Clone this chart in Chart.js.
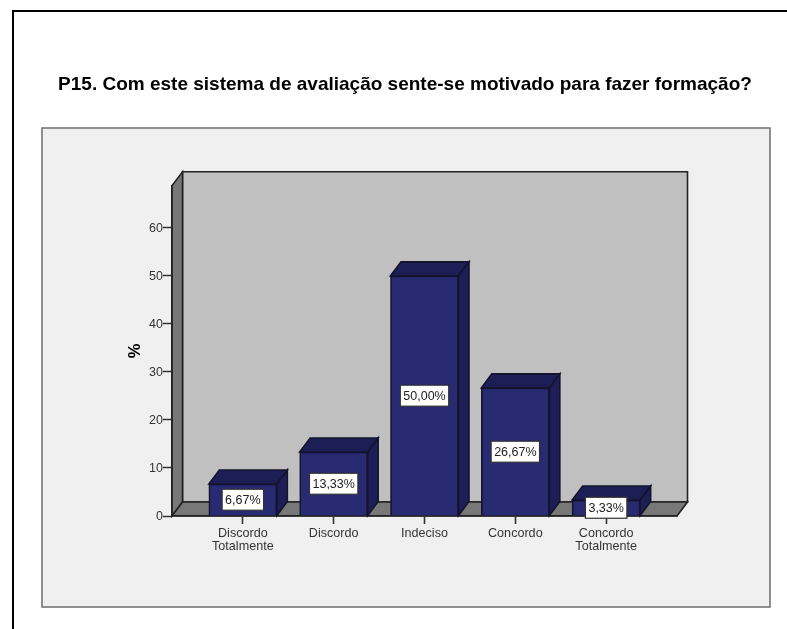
<!DOCTYPE html>
<html><head><meta charset="utf-8">
<style>html,body{margin:0;padding:0;background:#fff}#w{position:relative;width:787px;height:629px}canvas{display:block}</style>
<script src="https://cdn.jsdelivr.net/npm/chart.js@4"></script></head>
<body><div id="w"><canvas id="c" width="787" height="629"></canvas></div>
<script>
const chartTitle = 'P15. Com este sistema de avaliação sente-se motivado para fazer formação?';
const categories = [['Discordo','Totalmente'],['Discordo'],['Indeciso'],['Concordo'],['Concordo','Totalmente']];
const percentValues = [6.67, 13.33, 50.00, 26.67, 3.33];
const valueLabels = ['6,67%','13,33%','50,00%','26,67%','3,33%'];
const yTicks = [0,10,20,30,40,50,60];
const yTitle = '%';
const DX = 10.5, DY = 14;

function poly(ctx, pts, fill, stroke, lw){
  ctx.beginPath();
  pts.forEach((p,i)=> i?ctx.lineTo(p[0],p[1]):ctx.moveTo(p[0],p[1]));
  ctx.closePath();
  ctx.fillStyle=fill; ctx.fill();
  ctx.strokeStyle=stroke; ctx.lineWidth=lw; ctx.stroke();
}
const frame = {
  id:'frame',
  afterLayout(chart){
    // let the title run wider than the plot box
    const t=chart.titleBlock; t.left=40; t.right=770;
  },
  beforeDraw(chart){
    const ctx=chart.ctx, a=chart.chartArea;
    ctx.save();
    ctx.fillStyle='#fff'; ctx.fillRect(0,0,chart.width,chart.height);
    ctx.strokeStyle='#000'; ctx.lineWidth=2;
    ctx.beginPath(); ctx.moveTo(13,629); ctx.lineTo(13,11); ctx.lineTo(787,11); ctx.stroke();
    ctx.fillStyle='#f0f0f0'; ctx.fillRect(42,128,728,479);
    ctx.strokeStyle='#6e6e6e'; ctx.lineWidth=1.5; ctx.strokeRect(42,128,728,479);
    const l=a.left,r=a.right,t=a.top,b=a.bottom;
    poly(ctx,[[l+DX,t-DY],[r+DX,t-DY],[r+DX,b-DY],[l+DX,b-DY]],'#c0c0c0','#222',1.6);
    poly(ctx,[[l,t],[l+DX,t-DY],[l+DX,b-DY],[l,b]],'#787878','#222',1.6);
    poly(ctx,[[l,b],[l+DX,b-DY],[r+DX,b-DY],[r,b]],'#787878','#222',1.6);
    ctx.restore();
  },
  beforeDatasetsDraw(chart){
    const ctx=chart.ctx;
    ctx.save();
    chart.getDatasetMeta(0).data.forEach(el=>{
      const p=el.getProps(['x','y','base','width'],true);
      const l=p.x-p.width/2, r=p.x+p.width/2;
      poly(ctx,[[l,p.y],[l+DX,p.y-DY],[r+DX,p.y-DY],[r,p.y]],'#1d1e55','#14142e',1.6);
      poly(ctx,[[r,p.y],[r+DX,p.y-DY],[r+DX,p.base-DY],[r,p.base]],'#1d1e55','#14142e',1.6);
    });
    ctx.restore();
  },
  afterDatasetsDraw(chart){
    const ctx=chart.ctx;
    ctx.save();
    ctx.font='12.5px "Liberation Sans"';
    ctx.textAlign='center'; ctx.textBaseline='middle';
    chart.getDatasetMeta(0).data.forEach((el,i)=>{
      const p=el.getProps(['x','y','base'],true);
      const cy=(p.y+p.base)/2, txt=valueLabels[i];
      const w=ctx.measureText(txt).width+6, h=21;
      ctx.fillStyle='#fff'; ctx.fillRect(p.x-w/2,cy-h/2,w,h);
      ctx.strokeStyle='#333'; ctx.lineWidth=1.2; ctx.strokeRect(p.x-w/2,cy-h/2,w,h);
      ctx.fillStyle='#222'; ctx.fillText(txt,p.x,cy+0.5);
    });
    ctx.restore();
  }
};
new Chart(document.getElementById('c'),{
  type:'bar',
  data:{datasets:[{
    data:percentValues.map((v,i)=>({x:i,y:v})),
    backgroundColor:'#282a72', borderColor:'#14142e', borderWidth:1.7, barThickness:68
  }]},
  plugins:[frame],
  options:{
    responsive:false, animation:false,
    layout:{padding:{left:133,right:110,top:73,bottom:0}},
    plugins:{
      legend:{display:false}, tooltip:{enabled:false},
      title:{display:true,text:chartTitle,color:'#000',
        font:{family:'"Liberation Sans"',size:19,weight:'bold',lineHeight:1.2},
        padding:{top:0,bottom:90}}
    },
    scales:{
      x:{type:'linear',min:-0.78,max:4.78,offset:false,
        afterBuildTicks(s){s.ticks=categories.map((_,i)=>({value:i}));},
        afterFit(s){s.height=113;},
        grid:{offset:false,drawOnChartArea:false,tickLength:8,tickColor:'#333',tickWidth:1.6},
        border:{display:true,color:'#222',width:1.5},
        ticks:{autoSkip:false,maxRotation:0,padding:3,color:'#333',
          font:{family:'"Liberation Sans"',size:12.6,lineHeight:1.04},
          callback:v=>categories[v]}
      },
      y:{type:'linear',min:0,max:68.75,
        afterBuildTicks(s){s.ticks=yTicks.map(v=>({value:v}));},
        afterFit(s){s.width=39;},
        grid:{drawOnChartArea:false,tickLength:9,tickColor:'#333',tickWidth:1.5},
        border:{display:true,color:'#222',width:1.5},
        ticks:{padding:0,labelOffset:1,color:'#333',font:{family:'"Liberation Sans"',size:12.5}},
        title:{display:true,text:yTitle,color:'#000',
          font:{family:'"Liberation Sans"',size:16.5,weight:'bold',lineHeight:1},padding:{top:-6,bottom:0}}
      }
    }
  }
});
</script></body></html>
